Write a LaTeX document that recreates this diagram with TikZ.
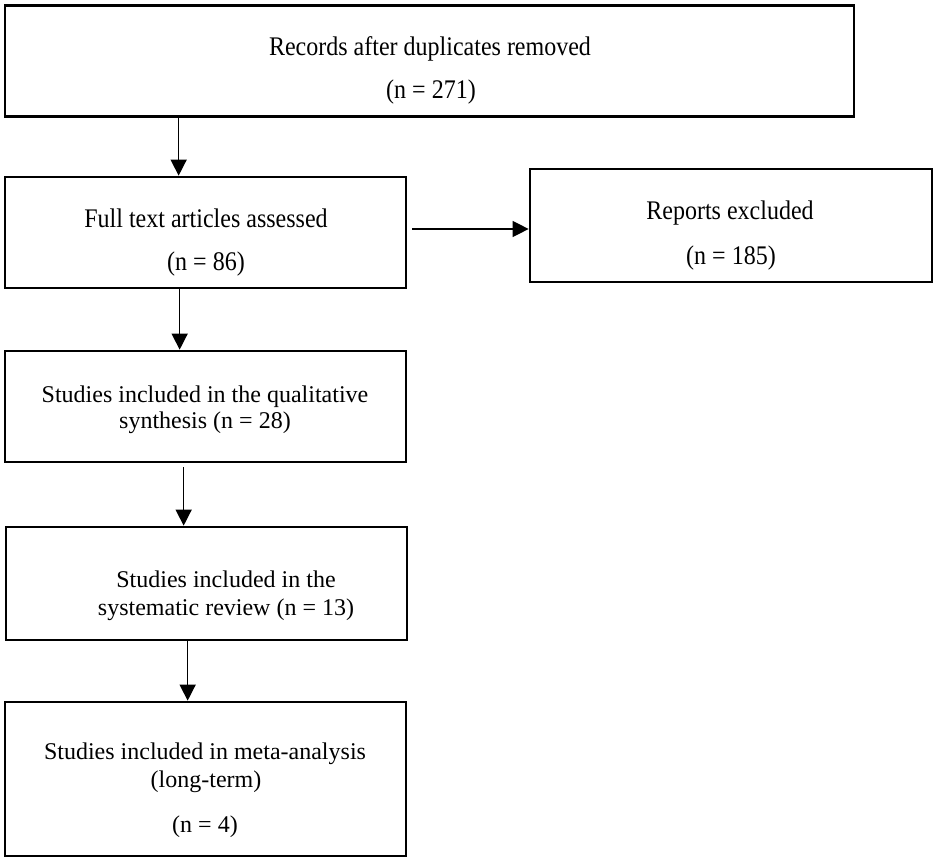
\documentclass[tikz,border=0pt]{standalone}
\usepackage{fontspec}
\usepackage{graphicx}
\setmainfont{Liberation Serif}
\usetikzlibrary{arrows.meta}
\newcommand{\tallt}[1]{\scalebox{1}[1.12]{#1}}
\begin{document}
\begin{tikzpicture}[x=1pt,y=-1pt,
  box/.style={draw=black, line width=2.7pt, rectangle, inner sep=0pt, fill=none},
  txt/.style={anchor=base, inner sep=0pt, font=\fontsize{24}{28}\selectfont},
  arr/.style={draw=black, line width=1.4pt, -{Triangle[length=16pt,width=16pt]}}]
\useasboundingbox[fill=white] (0,0) rectangle (935,861);
% boxes
\node[box, minimum width=849pt, minimum height=111pt] (b1) at (429.5,61) {};
\node[box, minimum width=401pt, minimum height=111pt] (b2) at (205.5,232.5) {};
\node[box, minimum width=402pt, minimum height=113pt] (b3) at (731,225.5) {};
\node[box, minimum width=401pt, minimum height=111pt] (b4) at (205.5,406.5) {};
\node[box, minimum width=401pt, minimum height=113pt] (b5) at (206.5,583.5) {};
\node[box, minimum width=401pt, minimum height=154pt] (b6) at (205.5,779) {};
% texts
\node[txt] (t1a) at (430,56) {\tallt{Records after duplicates removed}};
\node[txt] (t1b) at (431,99) {\tallt{(n = 271)}};
\node[txt] (t2a) at (206,228) {\tallt{Full text articles assessed}};
\node[txt] (t2b) at (206,271) {\tallt{(n = 86)}};
\node[txt] (t3a) at (730,220) {\tallt{Reports excluded}};
\node[txt] (t3b) at (731,265) {\tallt{(n = 185)}};
\node[txt] (t4a) at (205,402) {Studies included in the qualitative};
\node[txt] (t4b) at (205,428) {synthesis (n = 28)};
\node[txt] (t5a) at (226,587) {Studies included in the};
\node[txt] (t5b) at (226,615) {systematic review (n = 13)};
\node[txt] (t6a) at (205,759) {Studies included in meta-analysis};
\node[txt] (t6b) at (206,787) {(long-term)};
\node[txt] (t6c) at (205,832) {(n = 4)};
% connectors
\draw[arr] ([xshift=175pt]b1.south west) -- ([xshift=175pt]b2.north west);
\draw[arr] ([xshift=176pt]b2.south west) -- ([xshift=176pt]b4.north west);
\draw[arr, shorten <=4pt] ([xshift=180pt]b4.south west) -- ([xshift=179pt]b5.north west);
\draw[arr] ([xshift=183pt]b5.south west) -- ([xshift=184pt]b6.north west);
\coordinate (hs) at (412,229);
\draw[arr] (hs) -- (hs -| b3.west);
\end{tikzpicture}
\end{document}
